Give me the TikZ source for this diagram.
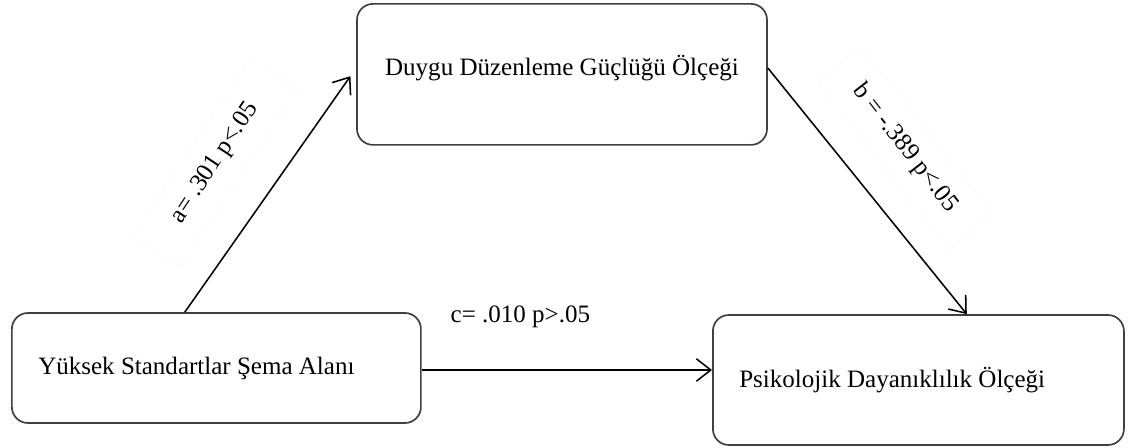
\documentclass[tikz,border=0pt]{standalone}
\usepackage{fontspec}
\setmainfont{Liberation Serif}
\usetikzlibrary{arrows.meta}

\begin{document}
\begin{tikzpicture}[
    thick,
    % Rounded boxes for the three variables
    measure/.style={
        rectangle,
        rounded corners=0.4cm,
        draw=black!75,
        line width=1.2pt,
        fill=white,
        inner xsep=0.66cm,
        align=flush left,
        font=\fontsize{17.8}{21}\selectfont,
        },
    % Path coefficients, with their faint frame
    coef/.style={
        draw=black!7,
        densely dotted,
        thin,
        minimum width=5.35cm,
        minimum height=1.4cm,
        font=\fontsize{17.8}{21}\selectfont,
        },
    effect/.style={
        draw=black,
        line width=1.1pt,
        -{Straight Barb[length=3.6mm,width=5.6mm]},
        },
    ]
    \useasboundingbox (0,0) rectangle (28.4,11.2);

    \node [measure, minimum width=10.25cm, minimum height=3.525cm, text depth=0.45cm] (dds) at (14.05,9.34) {Duygu Düzenleme Güçlüğü Ölçeği};
    \node [measure, text width=8.905cm, minimum height=2.75cm] (ysa) at (5.41,2.0) {Yüksek Standartlar Şema Alanı};
    \node [measure, text width=8.955cm, minimum height=3.25cm] (pdo) at (22.96,1.7) {Psikolojik Dayanıklılık Ölçeği};

    \node [coef, rotate=56.4] (a) at (5.375,7.125) {a= .301 p<.05};
    \node [coef, rotate=-52] (b) at (22.63,7.5) {b = -.389 p<.05};
    \node [font=\fontsize{17.8}{21}\selectfont] (c) at (13.01,3.275) {c= .010 p>.05};

    \draw [effect, shorten >=0.25cm] ([xshift=-0.79cm]ysa.north) -- ([yshift=0.16cm]dds.west);
    \draw [effect] ([yshift=0.16cm]dds.east) -- ([xshift=1.21cm]pdo.north);
    \draw [effect] ([yshift=-0.05cm]ysa.east) -- ([yshift=-0.05cm]ysa.east -| pdo.west);

\end{tikzpicture}
\end{document}
